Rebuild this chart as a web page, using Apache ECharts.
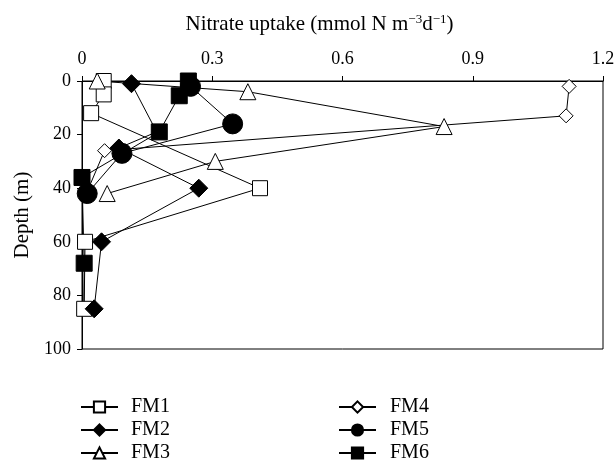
<!DOCTYPE html>
<html>
<head>
<meta charset="utf-8">
<script src="https://cdn.jsdelivr.net/npm/echarts@6/dist/echarts.min.js"></script>
<style>
  html, body { margin: 0; padding: 0; background: #ffffff; }
  #chart { width: 616px; height: 470px; }
</style>
</head>
<body>
<div id="chart"></div>
<script>
// Nitrate uptake profiles by station (uptake in mmol N m^-3 d^-1, depth in m)
const stationNames = ['FM1', 'FM2', 'FM3', 'FM4', 'FM5', 'FM6'];

const fm1Uptake = [0.05, 0.05, 0.021, 0.41, 0.007, 0.005];
const fm1Depth  = [0, 5, 12, 40, 60, 85];

const fm2Uptake = [0.114, 0.172, 0.085, 0.269, 0.045, 0.028];
const fm2Depth  = [1, 19, 25, 40, 60, 85];

const fm3Uptake = [0.035, 0.382, 0.834, 0.307, 0.058];
const fm3Depth  = [0, 4, 17, 30, 42];

const fm4Uptake = [1.122, 1.115, 0.052, 0.01];
const fm4Depth  = [2, 13, 26, 42];

const fm5Uptake = [0.25, 0.347, 0.092, 0.012];
const fm5Depth  = [2, 16, 27, 42];

const fm6Uptake = [0.245, 0.224, 0.178, 0.0, 0.005, 0.004];
const fm6Depth  = [0, 5.5, 19, 36, 68, 85];

const uptakeTicks = [0, 0.3, 0.6, 0.9, 1.2];
const depthTicks  = [0, 20, 40, 60, 80, 100];

const FONT = 'Liberation Serif';

function pairs(xs, ys) {
  return xs.map((x, i) => [x, ys[i]]);
}

// Points that sit under another station's marker only carry the line through
function withHidden(data, hiddenIdx) {
  return data.map((d, i) => hiddenIdx.includes(i) ? { value: d, symbol: 'none' } : d);
}

const openStyle = { color: '#ffffff', borderColor: '#000000', borderWidth: 1 };
const filledStyle = { color: '#000000', borderColor: '#000000', borderWidth: 1 };

function station(name, data, symbol, size, style) {
  return {
    name: name,
    type: 'line',
    data: data,
    symbol: symbol,
    symbolSize: size,
    showAllSymbol: true,
    lineStyle: { color: '#000000', width: 1 },
    itemStyle: style,
    emphasis: { disabled: true },
    animation: false
  };
}

function legendColumn(names, left, textGap) {
  return {
    data: names,
    orient: 'vertical',
    left: left, top: 396,
    padding: 0,
    itemWidth: 37, itemHeight: 14, itemGap: 1,
    textStyle: {
      fontFamily: FONT, fontSize: 20, lineHeight: 22, color: '#000000',
      padding: [0, 0, 0, textGap]
    },
    selectedMode: false
  };
}

const chart = echarts.init(document.getElementById('chart'), null, { renderer: 'canvas' });

chart.setOption({
  backgroundColor: '#ffffff',
  textStyle: { fontFamily: FONT },
  grid: {
    left: 82, right: 13, top: 81, bottom: 121,
    outerBoundsMode: 'none',
    containLabel: false,
    show: true, borderColor: '#000000', borderWidth: 1, backgroundColor: 'transparent'
  },
  xAxis: {
    type: 'value',
    position: 'top',
    min: uptakeTicks[0],
    max: uptakeTicks[uptakeTicks.length - 1],
    interval: 0.3,
    name: '{a|Nitrate uptake (mmol N m}{s|−3}{a|d}{s|−1}{a|)}',
    nameLocation: 'middle',
    nameGap: 45,
    nameTextStyle: {
      padding: [0, 46, 0, 0],
      rich: {
        a: { fontFamily: FONT, fontSize: 21, color: '#000000' },
        s: { fontFamily: FONT, fontSize: 13, color: '#000000', padding: [0, 0, 10, 0] }
      }
    },
    axisLine: { show: true, lineStyle: { color: '#000000', width: 1 } },
    axisTick: { show: true, inside: false, length: 5, lineStyle: { color: '#000000' } },
    axisLabel: {
      fontFamily: FONT, fontSize: 18, color: '#000000', margin: 13,
      formatter: v => (v === 0 ? '0' : v.toFixed(1))
    },
    splitLine: { show: false }
  },
  yAxis: {
    type: 'value',
    inverse: true,
    min: depthTicks[0],
    max: depthTicks[depthTicks.length - 1],
    interval: 20,
    name: 'Depth (m)',
    nameLocation: 'middle',
    nameGap: 48,
    nameRotate: 90,
    nameTextStyle: { fontFamily: FONT, fontSize: 21, color: '#000000' },
    axisLine: { show: true, lineStyle: { color: '#000000', width: 1 } },
    axisTick: { show: true, inside: false, length: 5, lineStyle: { color: '#000000' } },
    axisLabel: { fontFamily: FONT, fontSize: 18, color: '#000000', margin: 11 },
    splitLine: { show: false }
  },
  legend: [
    legendColumn(stationNames.slice(0, 3), 80, 8),
    legendColumn(stationNames.slice(3), 338, 9)
  ],
  series: [
    station('FM1', pairs(fm1Uptake, fm1Depth), 'rect', 15, openStyle),
    station('FM2', withHidden(pairs(fm2Uptake, fm2Depth), [1]), 'diamond', 18, filledStyle),
    station('FM3', pairs(fm3Uptake, fm3Depth), 'triangle', 16, openStyle),
    station('FM4', withHidden(pairs(fm4Uptake, fm4Depth), [3]), 'diamond', 14, openStyle),
    station('FM5', pairs(fm5Uptake, fm5Depth), 'circle', 20, filledStyle),
    station('FM6', withHidden(pairs(fm6Uptake, fm6Depth), [5]), 'rect', 16, filledStyle)
  ]
});
</script>
</body>
</html>
